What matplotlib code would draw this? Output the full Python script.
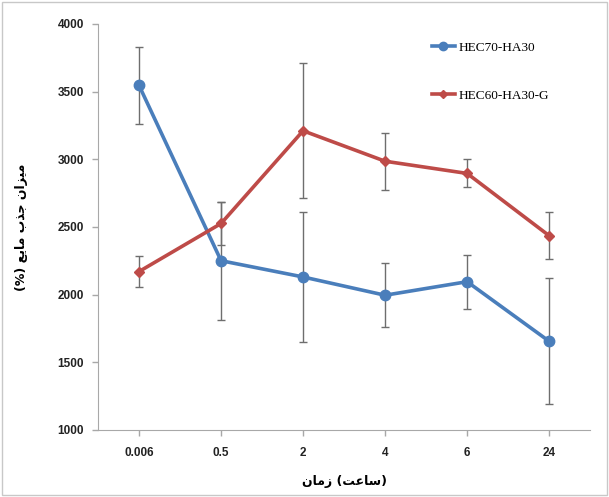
import matplotlib.pyplot as plt
from matplotlib.patches import Rectangle
from matplotlib.lines import Line2D

# time points (hours) shown as categories
time_labels = ['0.006', '0.5', '2', '4', '6', '24']

# liquid uptake values and error bars
hec70_ha30 = [3545, 2250, 2130, 1995, 2095, 1655]
hec70_ha30_err = [285, 435, 480, 235, 200, 465]

hec60_ha30_g = [2170, 2525, 3210, 2985, 2895, 2435]
hec60_ha30_g_err = [115, 160, 500, 210, 103, 175]

# persian labels written in visual order with presentation forms
xlabel_text = '\ufee5\ufe8e\ufee3\ufeaf (\ufe96\ufecb\ufe8e\ufeb3)'
ylabel_text = ('(%) \ufeca\ufef3\ufe8e\ufee3 \ufe8f\ufeac\ufe9f '
               '\ufee5\ufe8d\ufeb0\ufef4\ufee3')

blue = '#4a7ebb'
red = '#be4b48'

fig = plt.figure(figsize=(6.09, 4.97), dpi=100)
fig.patches.append(Rectangle((0.004, 0.004), 0.992, 0.992, transform=fig.transFigure,
                             fill=False, edgecolor='#c8c8c8', linewidth=1))
ax = fig.add_axes([0.161, 0.135, 0.808, 0.817])

x = list(range(len(time_labels)))

ax.errorbar(x, hec70_ha30, yerr=hec70_ha30_err, color=blue, linewidth=2.6,
            marker='o', markersize=7.5, ecolor='#6e6e6e', elinewidth=1, capsize=3,
            zorder=3)
ax.errorbar(x, hec60_ha30_g, yerr=hec60_ha30_g_err, color=red, linewidth=2.6,
            marker='D', markersize=5.5, ecolor='#6e6e6e', elinewidth=1, capsize=3,
            zorder=3)

ax.set_xlim(-0.5, 5.5)
ax.set_ylim(1000, 4000)
ax.set_yticks([1000, 1500, 2000, 2500, 3000, 3500, 4000])
ax.set_xticks(x)
ax.set_xticklabels(time_labels)

for lbl in ax.get_xticklabels() + ax.get_yticklabels():
    lbl.set_fontfamily('Liberation Sans')
    lbl.set_fontweight('bold')
    lbl.set_fontsize(8.5)

ax.spines['top'].set_visible(False)
ax.spines['right'].set_visible(False)
ax.spines['left'].set_color('#a8a8a8')
ax.spines['bottom'].set_color('#a8a8a8')
ax.tick_params(axis='both', colors='#a8a8a8', length=4, width=1, labelcolor='#222222')
ax.tick_params(axis='x', pad=8)
ax.tick_params(axis='y', pad=6)

ax.set_xlabel(xlabel_text, fontfamily='DejaVu Sans', fontsize=9, fontweight='bold',
              labelpad=12)
ax.set_ylabel(ylabel_text, fontfamily='DejaVu Sans', fontsize=9, fontweight='bold',
              labelpad=21)

handles = [Line2D([], [], color=blue, linewidth=2.6, marker='o', markersize=6),
           Line2D([], [], color=red, linewidth=2.6, marker='D', markersize=4.5)]
ax.legend(handles, ['HEC70-HA30', 'HEC60-HA30-G'], loc='upper left',
          bbox_to_anchor=(0.655, 0.985), frameon=False,
          handlelength=1.7, handletextpad=0.3, labelspacing=2.7,
          prop={'family': 'Liberation Serif', 'size': 9.5})

fig.savefig('out.png', dpi=100)
